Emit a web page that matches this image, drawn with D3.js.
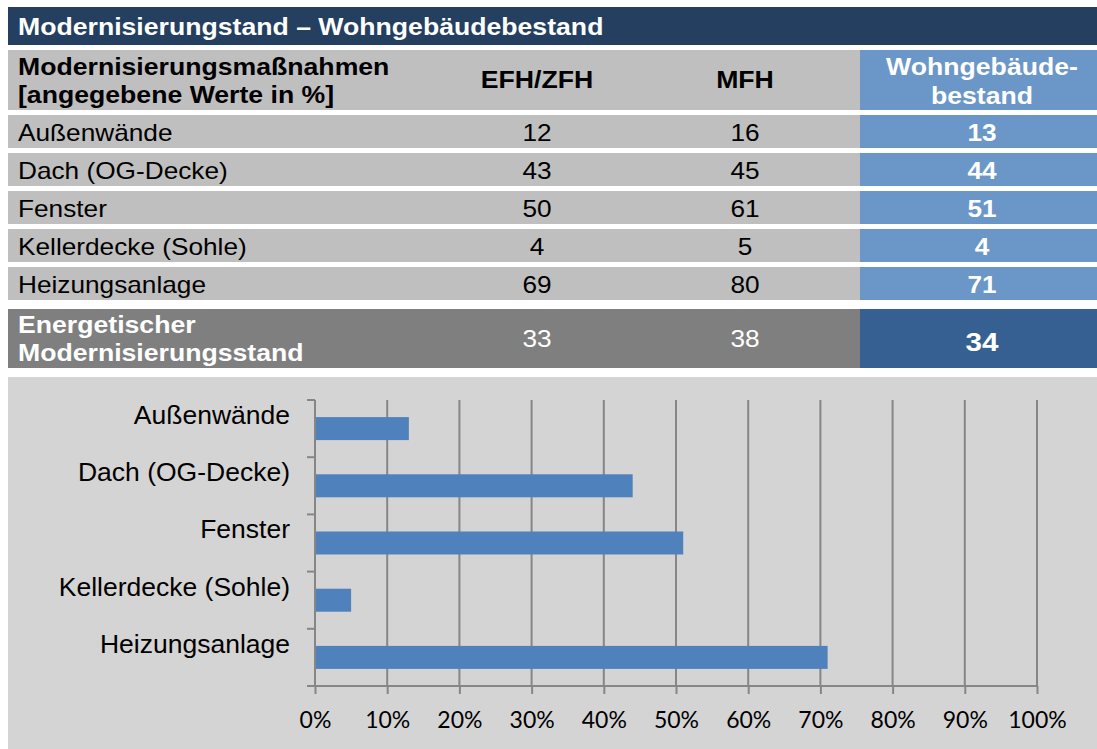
<!DOCTYPE html>
<html>
<head>
<meta charset="utf-8">
<script src="https://cdn.jsdelivr.net/npm/d3@7"></script>
<style>
  body { margin: 0; background: #fff; }
  svg { display: block; font-family: Arial, "Liberation Sans", sans-serif; }
</style>
</head>
<body>
<svg id="chart" width="1097" height="749"></svg>
<script>
const title = "Modernisierungstand – Wohngebäudebestand";
const headers = ["EFH/ZFH", "MFH"];
const measures = ["Außenwände", "Dach (OG-Decke)", "Fenster", "Kellerdecke (Sohle)", "Heizungsanlage"];
const efh = [12, 43, 50, 4, 69];
const mfh = [16, 45, 61, 5, 80];
const bestand = [13, 44, 51, 4, 71];
const totalLabel = ["Energetischer", "Modernisierungsstand"];
const totals = [33, 38, 34];
// bar lengths as drawn in the chart
const barValues = [13, 44, 51, 5, 71];
const xTicks = [0, 10, 20, 30, 40, 50, 60, 70, 80, 90, 100];

const svg = d3.select("#chart");
const left = 8, right = 1097, blueX = 860;
const colX = [537, 745, 982];

// table text is a bit wider than plain Arial, so stretch it
function label(x, y, txt, o = {}) {
  const t = svg.append("text")
    .attr("transform", `translate(${x},${y}) scale(${o.sx || 1.14},1)`)
    .attr("font-size", o.size || 23)
    .attr("font-weight", o.bold ? "bold" : "normal")
    .attr("fill", o.fill || "#000")
    .attr("text-anchor", o.anchor || "start")
    .text(txt);
  return t;
}

// title bar
svg.append("rect").attr("x", left).attr("y", 7).attr("width", right - left).attr("height", 38).attr("fill", "#243f60");
label(18, 35, title, {bold: true, size: 24, sx: 1.11, fill: "#fff"});

// header row
svg.append("rect").attr("x", left).attr("y", 50).attr("width", blueX - left).attr("height", 60).attr("fill", "#bfbfbf");
svg.append("rect").attr("x", blueX).attr("y", 50).attr("width", right - blueX).attr("height", 60).attr("fill", "#6a96c8");
const hb = {bold: true, size: 24, sx: 1.11};
label(18, 75, "Modernisierungsmaßnahmen", hb);
label(18, 103, "[angegebene Werte in %]", hb);
headers.forEach((h, i) => label(colX[i], 88, h, {...hb, anchor: "middle"}));
label(colX[2], 75, "Wohngebäude-", {...hb, anchor: "middle", fill: "#fff"});
label(colX[2], 104, "bestand", {...hb, anchor: "middle", fill: "#fff"});

// body rows
const rowTop = i => 115 + i * 38;
measures.forEach((m, i) => {
  const y0 = rowTop(i);
  svg.append("rect").attr("x", left).attr("y", y0).attr("width", blueX - left).attr("height", 33).attr("fill", "#bfbfbf");
  svg.append("rect").attr("x", blueX).attr("y", y0).attr("width", right - blueX).attr("height", 33).attr("fill", "#6a96c8");
  const b = y0 + 25.5;
  label(18, b, m);
  label(colX[0], b, efh[i], {anchor: "middle"});
  label(colX[1], b, mfh[i], {anchor: "middle"});
  label(colX[2], b, bestand[i], {anchor: "middle", bold: true, fill: "#fff"});
});

// total row
svg.append("rect").attr("x", left).attr("y", 309).attr("width", blueX - left).attr("height", 59).attr("fill", "#7f7f7f");
svg.append("rect").attr("x", blueX).attr("y", 309).attr("width", right - blueX).attr("height", 59).attr("fill", "#366092");
label(18, 333, totalLabel[0], {...hb, fill: "#fff"});
label(18, 361, totalLabel[1], {...hb, fill: "#fff"});
label(colX[0], 347, totals[0], {anchor: "middle", fill: "#fff"});
label(colX[1], 347, totals[1], {anchor: "middle", fill: "#fff"});
label(colX[2], 351, totals[2], {anchor: "middle", fill: "#fff", bold: true, size: 26.5, sx: 1.12});

// chart
svg.append("rect").attr("x", left).attr("y", 377).attr("width", right - left).attr("height", 749 - 377).attr("fill", "#d4d4d4");
const x = d3.scaleLinear().domain([0, 100]).range([315, 1037]);
const y = d3.scaleBand().domain(measures).range([400, 686]);

svg.append("g").selectAll("line").data(xTicks.slice(1)).join("line")
  .attr("x1", d => x(d)).attr("x2", d => x(d)).attr("y1", 400).attr("y2", 686)
  .attr("stroke", "#868686").attr("stroke-width", 2);

const bh = 23;
svg.append("g").selectAll("rect").data(measures).join("rect")
  .attr("x", x(0)).attr("y", d => y(d) + (y.bandwidth() - bh) / 2)
  .attr("width", (d, i) => x(barValues[i]) - x(0)).attr("height", bh)
  .attr("fill", "#4f81bd");

const xAxis = svg.append("g").attr("transform", "translate(0,686)")
  .call(d3.axisBottom(x).tickValues(xTicks).tickSize(8).tickFormat(d => d + "%"));
xAxis.select(".domain").attr("stroke", "#868686").attr("stroke-width", 2).attr("d", `M${x(0)},0H${x(100)}`);
xAxis.selectAll(".tick line").attr("stroke", "#868686").attr("stroke-width", 2);
xAxis.selectAll(".tick text").attr("y", 42).attr("dy", null).attr("font-size", 23)
  .attr("font-family", "Lato, 'Open Sans', sans-serif").attr("fill", "#000");

const yAxis = svg.append("g").attr("transform", `translate(${x(0)},0)`);
yAxis.append("line").attr("x1", 0).attr("x2", 0).attr("y1", 400).attr("y2", 686).attr("stroke", "#868686").attr("stroke-width", 2);
yAxis.selectAll("line.tk").data(d3.range(measures.length + 1)).join("line").attr("class", "tk")
  .attr("x1", -8).attr("x2", 0).attr("y1", i => 400 + i * y.step()).attr("y2", i => 400 + i * y.step())
  .attr("stroke", "#868686").attr("stroke-width", 2);
yAxis.selectAll("text").data(measures).join("text")
  .attr("x", -25).attr("y", d => y(d) + 24)
  .attr("text-anchor", "end").attr("font-size", 26.5).attr("fill", "#000").text(d => d);
</script>
</body>
</html>
